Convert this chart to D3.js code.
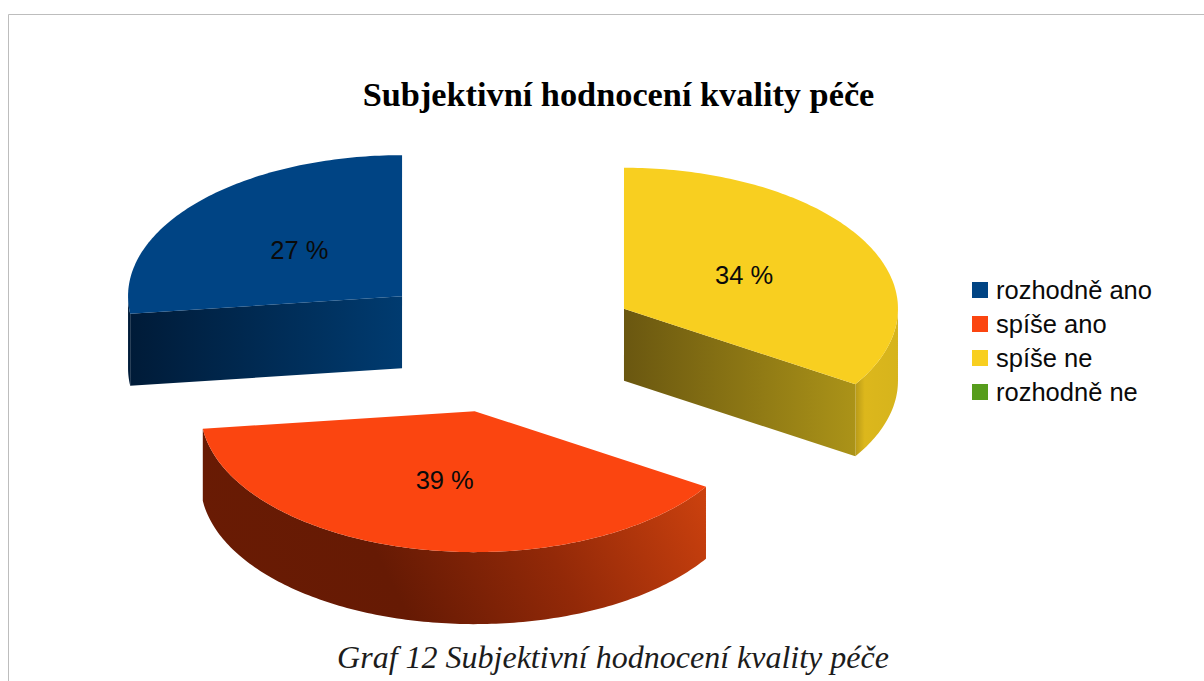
<!DOCTYPE html>
<html lang="cs">
<head>
<meta charset="utf-8">
<title>Subjektivní hodnocení kvality péče</title>
<script src="https://cdn.jsdelivr.net/npm/d3@7/dist/d3.min.js"></script>
<style>
  html, body { margin: 0; padding: 0; background: #fff; }
  svg { display: block; }
</style>
</head>
<body>
<script>
// Chart content
const categories = ["rozhodně ano", "spíše ano", "spíše ne", "rozhodně ne"];
const percentages = [27, 39, 34, 0];
const colors = ["#004484", "#fb4510", "#f8cf20", "#579d1c"];
const chartTitle = "Subjektivní hodnocení kvality péče";
const caption = "Graf 12 Subjektivní hodnocení kvality péče";

const W = 1204, H = 681;
const svg = d3.select("body").append("svg").attr("width", W).attr("height", H);
const defs = svg.append("defs");

// Frame around the chart area: only its left and top edges fall on the page
svg.append("path")
  .attr("d", `M8.5,${H}V14.5H${W}`)
  .attr("fill", "none").attr("stroke", "#bdbdbd").attr("stroke-width", 1);

svg.append("text")
  .attr("x", 618.5).attr("y", 106)
  .attr("text-anchor", "middle")
  .attr("font-family", "'Liberation Serif', serif")
  .attr("font-weight", "bold").attr("font-size", 34.3)
  .text(chartTitle);

svg.append("text")
  .attr("x", 613).attr("y", 668)
  .attr("text-anchor", "middle")
  .attr("font-family", "'Liberation Serif', serif")
  .attr("font-style", "italic").attr("font-size", 32)
  .attr("fill", "#1c1c1c")
  .text(caption);

// Projected pie: a flattened ellipse with a vertical extrusion, slices pushed out along their middle
const cx = 504.4, cy = 342.6, rx = 274, ry = 141, depth = 72, explode = 0.498, labelAt = 0.5;

// Counter-clockwise from twelve o'clock
const pie = d3.pie().sort(null).startAngle(0).endAngle(-2 * Math.PI);
const slices = pie(percentages).map((d, i) => ({ ...d, i }));

const dirX = a => Math.sin(a);
const dirY = a => -Math.cos(a);

const line = d3.line();

function arcPoints(ox, oy, a0, a1) {
  const n = Math.max(2, Math.ceil(Math.abs(a1 - a0) * 60));
  const t = d3.scaleLinear().domain([0, n]).range([a0, a1]);
  return d3.range(n + 1).map(k => [ox + rx * dirX(t(k)), oy + ry * dirY(t(k))]);
}

function gradient(id, x1, y1, x2, y2, stops) {
  const g = defs.append("linearGradient").attr("id", id)
    .attr("gradientUnits", "userSpaceOnUse")
    .attr("x1", x1).attr("y1", y1).attr("x2", x2).attr("y2", y2);
  stops.forEach(([o, c]) => g.append("stop").attr("offset", o).attr("stop-color", c));
  return `url(#${id})`;
}

// Shading of the extruded faces, from the dark left side toward the lit right side
const shade = (base, k) => d3.color(base).darker(k).formatHex();
const wallShades = [
  [[0, "#001c3a"], [1, "#001c3a"]],
  [[0, "#691b04"], [0.3, "#661a04"], [0.62, "#932908"], [1, "#d2440f"]],
  [[0, "#b89a18"], [0.22, "#dcb71c"], [1, "#d6b41c"]],
  [[0, "#2a4f0e"], [1, "#3f7414"]]
];
const cutShades = [
  [[0, "#001b38"], [1, "#003b70"]],
  [[0, shade(colors[1], 2)], [1, shade(colors[1], 1)]],
  [[0, "#6a5710"], [1, "#ab9318"]],
  [[0, shade(colors[3], 2)], [1, shade(colors[3], 1)]]
];

const chart = svg.append("g");

slices.filter(d => d.value > 0).forEach(d => {
  const mid = (d.startAngle + d.endAngle) / 2;
  const ox = cx + explode * rx * dirX(mid);
  const oy = cy + explode * ry * dirY(mid);
  const g = chart.append("g");

  // Outer wall: the part of the rim that lies on the front half of the ellipse
  const frontFrom = Math.max(d.endAngle, -1.5 * Math.PI);
  const frontTo = Math.min(d.startAngle, -0.5 * Math.PI);
  if (frontFrom < frontTo) {
    const top = arcPoints(ox, oy, frontTo, frontFrom);
    const bottom = top.map(([x, y]) => [x, y + depth]).reverse();
    const xs = d3.extent(top, p => p[0]);
    const grad = d.i === 1
      ? gradient(`wall${d.i}`, xs[0] + 70, oy + 260, xs[1], oy + 40, wallShades[d.i])
      : gradient(`wall${d.i}`, xs[0], 0, xs[1], 0, wallShades[d.i]);
    g.append("path").attr("d", line(top.concat(bottom)) + "Z").attr("fill", grad);
  }

  // Radial cut faces turned toward the viewer: a start edge on the right, an end edge on the left
  [d.startAngle, d.endAngle].forEach((a, j) => {
    const faceFront = j === 0 ? dirX(a) > 1e-6 : dirX(a) < -1e-6;
    if (!faceFront) return;
    const rim = [ox + rx * dirX(a), oy + ry * dirY(a)];
    const pts = [[ox, oy], rim, [rim[0], rim[1] + depth], [ox, oy + depth]];
    const left = Math.min(ox, rim[0]), right = Math.max(ox, rim[0]);
    g.append("path").attr("d", line(pts) + "Z")
      .attr("fill", gradient(`cut${d.i}-${j}`, left, 0, right, 0, cutShades[d.i]));
  });

  // Top face
  const topFace = [[ox, oy]].concat(arcPoints(ox, oy, d.startAngle, d.endAngle));
  g.append("path").attr("d", line(topFace) + "Z").attr("fill", colors[d.i]);

  // Value label
  g.append("text")
    .attr("x", ox + labelAt * rx * dirX(mid))
    .attr("y", oy + labelAt * ry * dirY(mid) + 9)
    .attr("text-anchor", "middle")
    .attr("font-family", "'Liberation Sans', sans-serif")
    .attr("font-size", 25.5)
    .attr("fill", "#0a0a0a")
    .text(`${d.value} %`);
});

// Legend
const legendY = d3.scalePoint().domain(categories).range([290, 392]);
const legend = svg.append("g").selectAll("g").data(categories).join("g")
  .attr("transform", c => `translate(972,${legendY(c)})`);
legend.append("rect")
  .attr("x", 0).attr("y", -8).attr("width", 16).attr("height", 16)
  .attr("fill", (c, i) => colors[i]);
legend.append("text")
  .attr("x", 24).attr("y", 8.5)
  .attr("font-family", "'Liberation Sans', sans-serif")
  .attr("font-size", 25.5)
  .attr("fill", "#0a0a0a")
  .text(c => c);
</script>
</body>
</html>
